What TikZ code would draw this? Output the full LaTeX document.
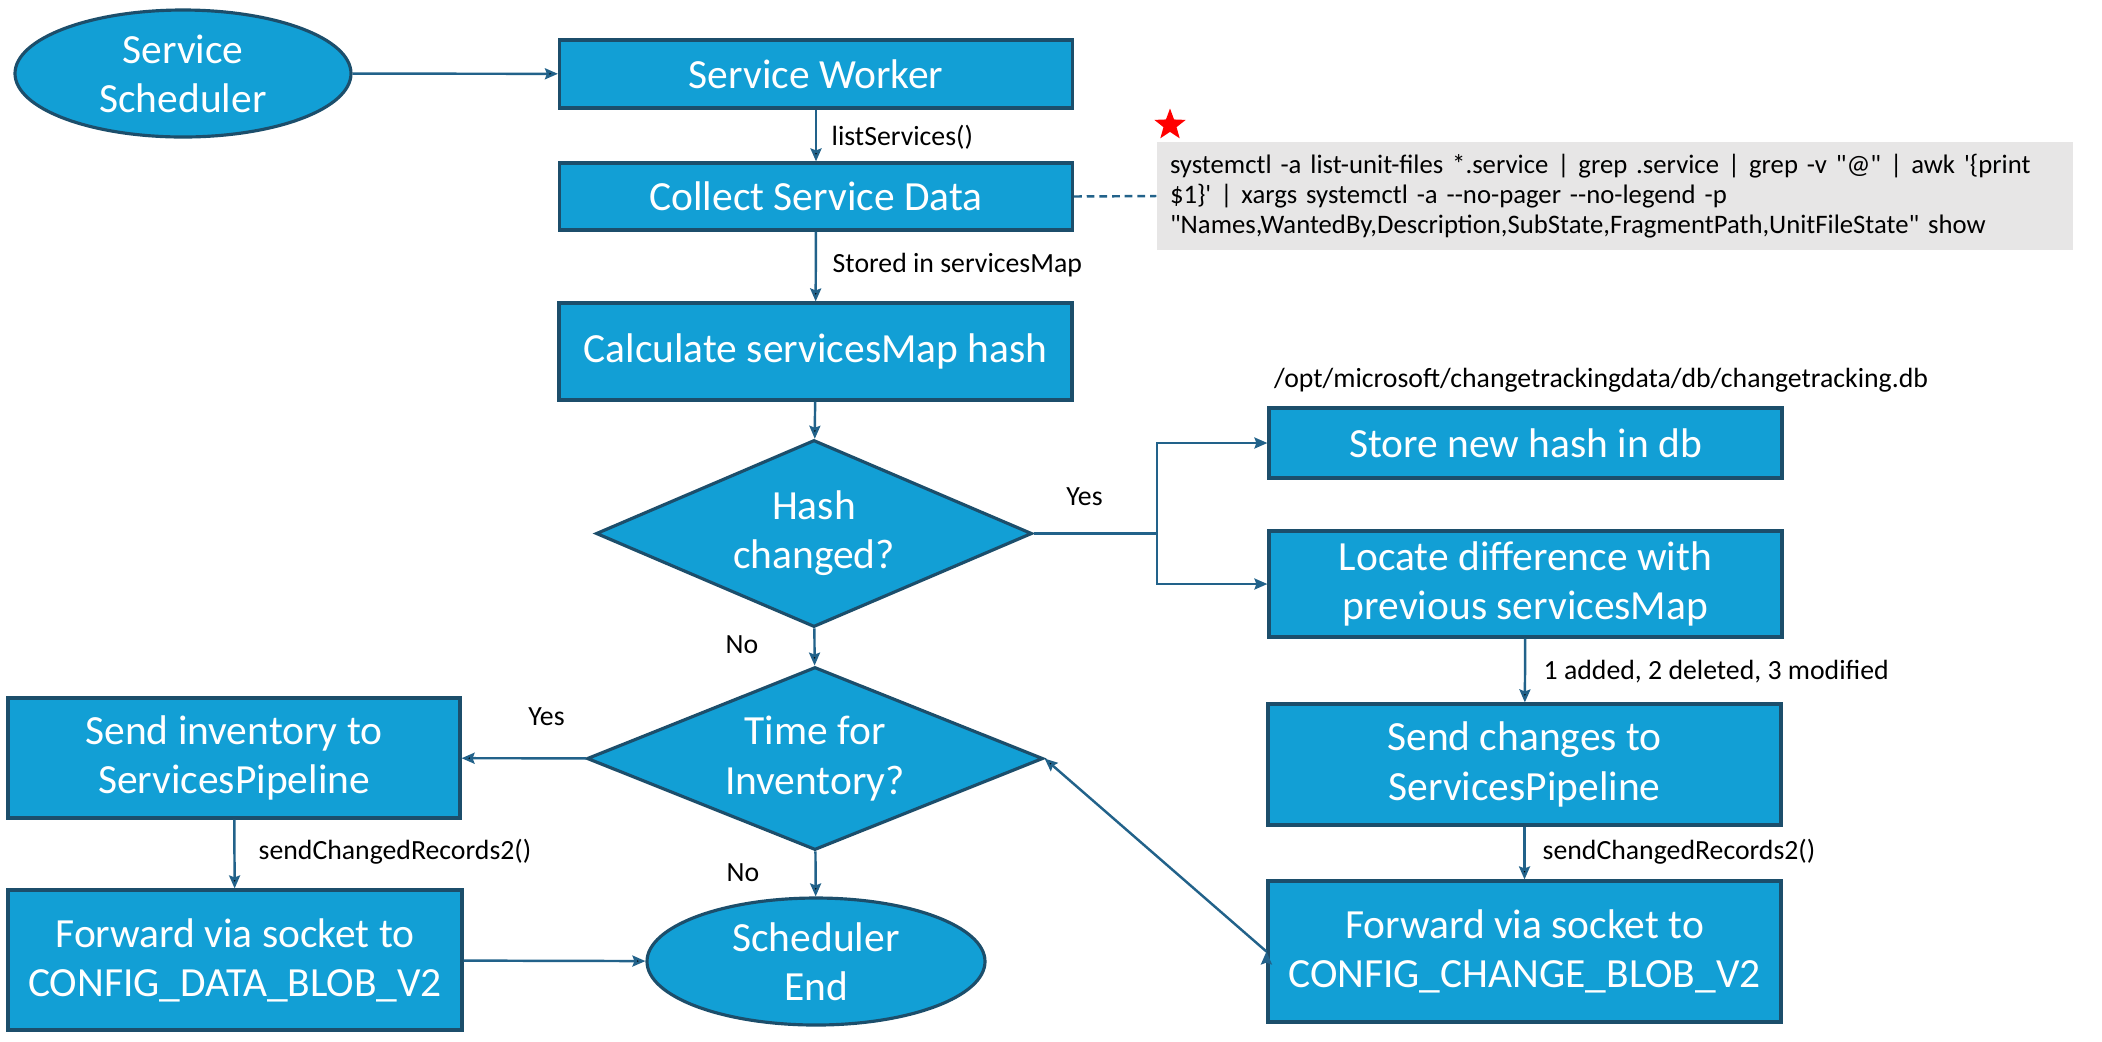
\documentclass[tikz,border=0pt]{standalone}
\usepackage{fontspec}
\setmainfont{Carlito}
\usepackage{tikz}
\usetikzlibrary{positioning}
\usetikzlibrary{arrows, shapes, shapes.geometric, arrows.meta}
\definecolor{boxblue}{HTML}{129FD5}
\definecolor{boxline}{HTML}{1C4E6B}
\definecolor{arrowblue}{HTML}{22628A}
\definecolor{cmdgrey}{HTML}{E7E6E6}
\tikzstyle{box} = [rectangle, draw=boxline, line width=0.9pt, fill=boxblue, text=white, align=center, inner sep=0pt, minimum width=5.13cm, font=\fontsize{11.8}{14}\selectfont]
\tikzstyle{oval} = [ellipse, draw=boxline, line width=0.9pt, fill=boxblue, text=white, align=center, inner sep=0pt, font=\fontsize{11.8}{14}\selectfont]
\tikzstyle{decision} = [diamond, draw=boxline, line width=0.9pt, fill=boxblue, text=white, align=center, inner sep=0pt, aspect=2.4, font=\fontsize{11.8}{14}\selectfont]
\tikzstyle{lbl} = [font=\fontsize{7.9}{9.5}\selectfont, text=black, inner sep=0pt]
\tikzstyle{arrow} = [draw=arrowblue, line width=0.7pt, -{Stealth[length=1.3mm, width=1.1mm, inset=0.2mm]}]

\begin{document}
\begin{tikzpicture}[]
    \useasboundingbox (0,0) rectangle (21.02,-10.41);
    % left column
    \node[oval, minimum width=3.36cm, minimum height=1.27cm] (SS) at (1.83,-0.735) {Service\\Scheduler};
    \node[box, minimum height=0.68cm] (SW) at (8.16,-0.74) {Service Worker};
    \node[box, minimum height=0.67cm] (CD) at (8.16,-1.965) {Collect Service Data};
    \node[box, minimum height=0.97cm] (CH) at (8.155,-3.515) {Calculate servicesMap hash};
    \node[decision, minimum width=4.36cm, minimum height=1.87cm] (HC) at (8.14,-5.335) {Hash\\changed?};
    \node[decision, minimum width=4.56cm, minimum height=1.83cm] (TI) at (8.15,-7.585) {Time for\\Inventory?};
    \node[oval, minimum width=3.38cm, minimum height=1.27cm] (SE) at (8.16,-9.615) {Scheduler\\End};
    \node[box, minimum width=4.52cm, minimum height=1.20cm] (SI) at (2.34,-7.58) {Send inventory to\\ServicesPipeline};
    \node[box, minimum width=4.54cm, minimum height=1.40cm] (FD) at (2.35,-9.60) {Forward via socket to\\CONFIG\_DATA\_BLOB\_V2};
    % right column
    \node[box, minimum height=0.70cm] (ST) at (15.255,-4.43) {Store new hash in db};
    \node[box, minimum height=1.06cm] (LD) at (15.255,-5.84) {Locate difference with\\previous servicesMap};
    \node[box, minimum height=1.21cm] (SC) at (15.245,-7.645) {Send changes to\\ServicesPipeline};
    \node[box, minimum height=1.41cm] (FC) at (15.245,-9.515) {Forward via socket to\\CONFIG\_CHANGE\_BLOB\_V2};
    % command note
    \node[rectangle, fill=cmdgrey, minimum width=9.16cm, minimum height=1.08cm, text width=8.9cm, align=left, inner xsep=0.13cm, font=\fontsize{7.6}{8.6}\selectfont] (cmd) at (16.15,-1.96) {systemctl -a list-unit-files *.service | grep .service | grep -v \textquotedbl @\textquotedbl{} | awk \textquotesingle\{print\\\$1\}\textquotesingle{} | xargs systemctl -a -{}-no-pager -{}-no-legend -p\\\textquotedbl Names,WantedBy,Description,SubState,FragmentPath,UnitFileState\textquotedbl{} show};
    \node[star, star points=5, star point ratio=2.4, fill=red, inner sep=0pt, minimum size=0.33cm] (st) at (11.70,-1.25) {};
    \node[lbl] (db) at (16.01,-3.80) {/opt/microsoft/changetrackingdata/db/changetracking.db};
    % labels
    \node[lbl, anchor=west] (l1) at (8.31,-1.37) {listServices()};
    \node[lbl, anchor=west] (l2) at (8.32,-2.65) {Stored in servicesMap};
    \node[lbl] (y1) at (10.845,-4.97) {Yes};
    \node[lbl] (n1) at (7.42,-6.45) {No};
    \node[lbl, anchor=west] (l3) at (15.43,-6.72) {1 added, 2 deleted, 3 modified};
    \node[lbl, anchor=west] (l4) at (15.42,-8.52) {sendChangedRecords2()};
    \node[lbl] (y2) at (5.465,-7.17) {Yes};
    \node[lbl, anchor=west] (l5) at (2.58,-8.52) {sendChangedRecords2()};
    \node[lbl] (n2) at (7.43,-8.73) {No};
    \coordinate (br) at (11.57,-5.335);
    % connectors
    \path [arrow] (SS) edge (SW);
    \path [arrow] (SW) edge (CD);
    \path [arrow] (CD) edge (CH);
    \path [arrow] (CH) edge (HC);
    \path [arrow] (HC) edge (TI);
    \path [arrow] (TI) edge (SE);
    \path [arrow] (TI) edge (SI);
    \path [arrow] (SI) edge (FD);
    \path [arrow] (FD) edge (SE);
    \draw [draw=arrowblue, line width=0.7pt] (HC.east) -- (br);
    \draw [arrow] (br) |- (ST.west);
    \draw [arrow] (br) |- (LD.west);
    \path [arrow] (LD) edge (SC);
    \path [arrow] (SC) edge (FC);
    \path [arrow] (FC.west) edge (TI.east);
    \draw [draw=arrowblue, line width=0.7pt, dash pattern=on 2.2pt off 1.4pt] (CD.east) -- (cmd.west);
\end{tikzpicture}
\end{document}
